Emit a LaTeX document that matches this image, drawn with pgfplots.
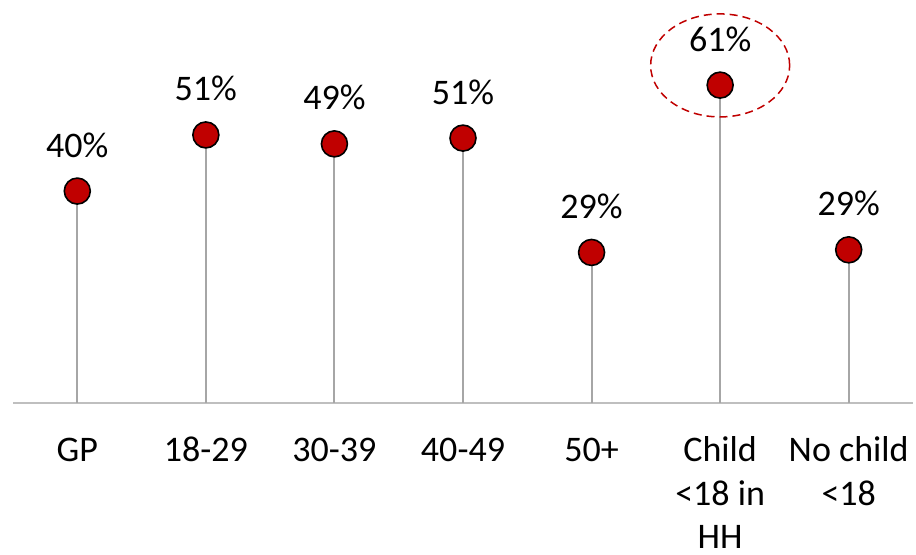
\documentclass[border=0pt]{standalone}
\usepackage{pgfplots}
\pgfplotsset{compat=1.18}
\usepackage{fontspec}
\setmainfont{Carlito}
\definecolor{dotred}{HTML}{C00000}
\definecolor{stemgray}{HTML}{A6A6A6}
\definecolor{axgray}{HTML}{BFBFBF}
\begin{document}
\begin{tikzpicture}[font=\fontsize{18}{22}\selectfont]
\path[use as bounding box] (-6.5pt,-76pt) rectangle (451.5pt,201.5pt);
\begin{axis}[
  scale only axis, width=450pt, height=183.6pt,
  at={(0,0)}, anchor=south west,
  xmin=-0.5, xmax=6.5, ymin=0, ymax=70,
  clip=false,
  axis y line=none,
  axis x line*=bottom,
  x axis line style={-, draw=axgray, line width=1pt},
  xtick={0,1,2,3,4,5,6},
  xticklabels={{\strut GP},{\strut 18-29},{\strut 30-39},{\strut 40-49},{\strut 50+},{\strut Child\\\strut <18 in\\\strut HH},{\strut No child\\\strut <18}},
  xticklabel style={align=center, anchor=north, inner sep=0pt, yshift=-13.8pt, font=\fontsize{18}{21.8}\selectfont},
  major tick length=0pt,
  tick style={draw=none},
]
\addplot[ycomb, draw=stemgray, line width=1pt, no marks] coordinates {
  (0,40.4) (1,51.1) (2,49.4) (3,50.5) (4,28.7) (5,60.6) (6,29.2)};
\addplot[only marks, mark=*, mark size=6.5pt,
  mark options={fill=dotred, draw=black, line width=0.8pt},
  point meta=explicit symbolic,
  nodes near coords,
  nodes near coords style={anchor=base, inner sep=0pt, yshift=17pt, text=black, font=\fontsize{18}{22}\selectfont}]
  table[meta=lab] {
x y lab
0 40.4 40\%
1 51.1 51\%
2 49.4 49\%
3 50.5 51\%
4 28.7 29\%
5 60.6 61\%
6 29.2 29\%
};
\draw[dotred, line width=0.75pt, dash pattern=on 4pt off 2.5pt] (axis cs:5,64.35) ellipse [x radius=34.75pt, y radius=25.75pt];
\end{axis}
\end{tikzpicture}
\end{document}
